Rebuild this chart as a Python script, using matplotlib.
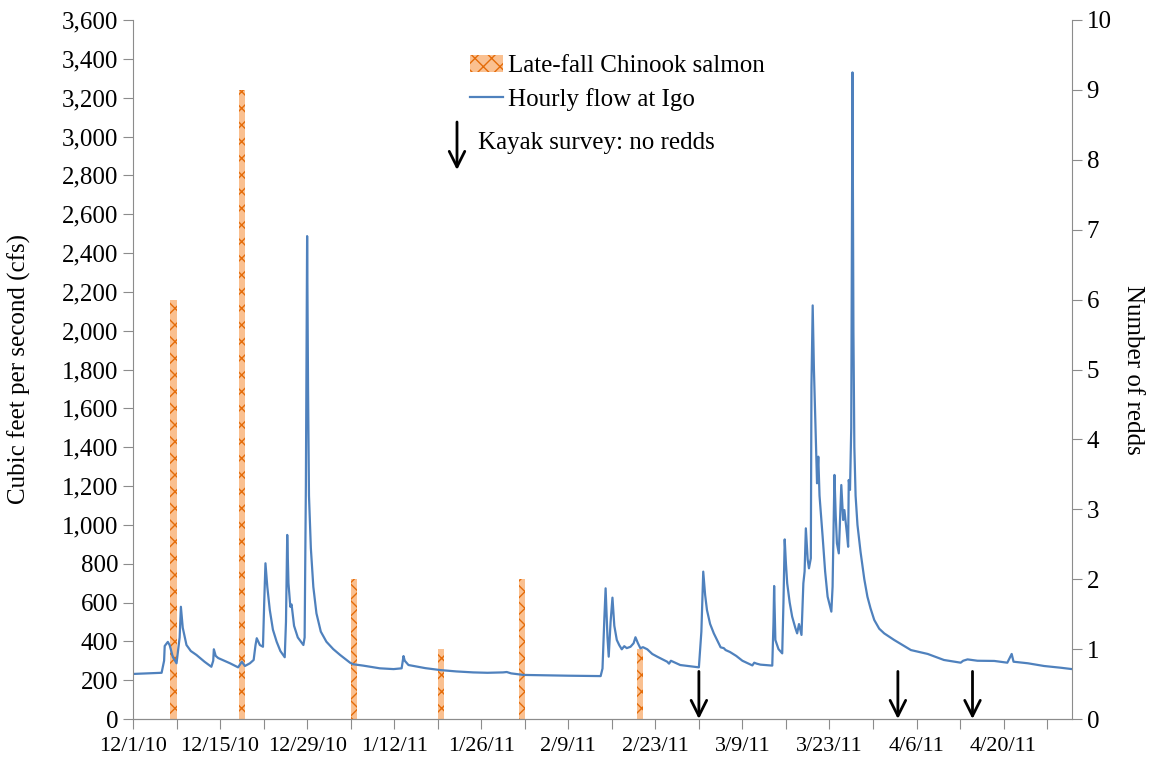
import numpy as np
import pandas as pd
import matplotlib
matplotlib.use("Agg")
import matplotlib.pyplot as plt
import matplotlib.dates as mdates
from matplotlib.ticker import FuncFormatter, MultipleLocator

plt.rcParams["font.family"] = ["Liberation Serif", "DejaVu Serif"]
plt.rcParams["hatch.linewidth"] = 1.0

# Data
start = pd.Timestamp("2010-12-01")

# hourly flow at Igo, days since 12/1/10 and cfs
flow_days = [0.0, 1.5, 3.0, 4.6, 5.0, 5.1, 5.6, 5.9, 6.4, 7.0, 7.5, 7.7, 8.0, 8.6, 9.3,
             10.2, 11.5, 12.6, 12.9, 13.0, 13.3, 13.7, 15.6, 16.9, 17.5, 18.0, 18.8,
             19.4, 19.7, 19.9, 20.4, 20.9, 21.1, 21.3, 21.6, 22.0, 22.5, 23.1, 23.7,
             24.4, 24.6, 24.8, 25.0, 25.3, 25.5, 25.9, 26.5, 27.4, 27.6, 27.8, 28.0,
             28.15, 28.3, 28.6, 29.0, 29.5, 30.2, 31.1, 32.2, 33.3, 34.9, 35.4, 37.0,
             39.7, 41.9, 43.2, 43.5, 43.7, 44.3, 47.0, 49.4, 52.0, 54.7, 57.0, 59.5,
             60.1, 60.8, 62.8, 66.0, 70.0, 75.2, 75.5, 75.8, 76.0, 76.3, 76.5, 76.8,
             77.1, 77.4, 77.8, 78.2, 78.6, 79.0, 79.4, 80.0, 80.5, 80.8, 81.2, 81.6,
             82.0, 82.7, 83.5, 84.3, 85.9, 86.2, 86.5, 88.0, 90.0, 91.0, 91.4, 91.7,
             92.0, 92.3, 92.8, 93.4, 94.5, 95.0, 95.3, 96.0, 97.0, 98.0, 99.6, 99.9,
             100.3, 100.9, 102.8, 103.0, 103.1, 103.3, 103.8, 104.4, 104.6, 104.8,
             105.0, 105.2, 105.6, 106.0, 106.5, 106.8, 107.1, 107.5, 107.8, 108.0,
             108.2, 108.5, 108.7, 109.0, 109.1, 109.3, 109.5, 109.8, 110.0, 110.2,
             110.4, 110.9, 111.3, 111.7, 112.3, 112.5, 112.8, 113.0, 113.2, 113.5,
             113.9, 114.2, 114.4, 114.8, 115.0, 115.1, 115.3, 115.5, 115.7, 115.85,
             116.0, 116.2, 116.5, 117.0, 117.6, 118.1, 118.6, 119.2, 120.0, 120.8,
             122.4, 125.1, 127.8, 130.4, 133.1, 133.5, 134.2, 135.8, 138.5, 140.6,
             141.3, 141.6, 143.9, 146.5, 149.2, 151.0]
flow_cfs = [232, 234, 236, 238, 300, 376, 397, 380, 320, 287, 420, 578, 470, 381, 350,
            330, 295, 269, 300, 359, 325, 314, 287, 266, 295, 273, 287,
            304, 380, 416, 381, 372, 600, 802, 680, 561, 460, 398, 350,
            318, 500, 948, 700, 578, 590, 480, 420, 381, 420, 1200, 2487,
            1700, 1150, 880, 680, 544, 450, 398, 360, 330, 290, 282, 275,
            261, 257, 261, 324, 300, 278, 262, 252, 245, 240, 238, 240,
            242, 235, 227, 225, 223, 221, 260, 520, 673, 420, 321, 500,
            625, 480, 407, 380, 359, 375, 365, 372, 390, 421, 390, 364,
            370, 359, 335, 321, 295, 285, 300, 278, 270, 266, 450, 759,
            640, 561, 490, 441, 369, 365, 355, 345, 325, 300, 276, 290,
            285, 280, 275, 500, 685, 407, 360, 338, 600, 925,
            800, 699, 600, 527, 470, 441, 489, 433, 699, 760,
            982, 820, 776, 828, 1711, 2130, 1800, 1454, 1214, 1351,
            1150, 939, 760, 630, 553, 681, 1257, 1050, 905, 853,
            1205, 1025, 1076, 956, 887, 1231, 1180, 1500, 3330, 2000,
            1400, 1150, 1000, 860, 720, 630, 570, 510, 465, 441,
            407, 355, 335, 304, 290, 300, 307, 300, 299, 290,
            335, 295, 287, 273, 264, 257]

# late-fall Chinook salmon redds
redd_dates = ["2010-12-07", "2010-12-18", "2011-01-05", "2011-01-19", "2011-02-01", "2011-02-20"]
redd_counts = [6, 9, 2, 1, 2, 1]

# kayak surveys with no redds
kayak_dates = ["2011-03-02", "2011-04-03", "2011-04-15"]

flow_t = start + pd.to_timedelta(flow_days, unit="D")
redd_t = pd.to_datetime(redd_dates)
kayak_t = pd.to_datetime(kayak_dates)

W, H = 1159, 761
fig = plt.figure(figsize=(W / 100, H / 100), dpi=100)
ax = fig.add_axes([133 / W, 1 - 719 / H, (1072 - 133) / W, (719 - 20) / H])
ax2 = ax.twinx()
ax.set_zorder(ax2.get_zorder() + 1)
ax.patch.set_visible(False)

bars = ax2.bar(redd_t, redd_counts, width=1.0, align="edge", color="#FAC090",
               edgecolor="#E46C0A", linewidth=0, hatch="xx",
               label="Late-fall Chinook salmon")
line, = ax.plot(flow_t, flow_cfs, color="#4F81BD", lw=1.6, label="Hourly flow at Igo")

for t in kayak_t:
    ax.annotate("", xy=(t, 0), xytext=(t, 245),
                arrowprops=dict(arrowstyle="->", color="black", lw=2, mutation_scale=28,
                                shrinkA=0, shrinkB=0))

grey = "#8c8c8c"
ax.set_xlim(start, pd.Timestamp("2011-05-01"))
ax.set_ylim(0, 3600)
ax2.set_ylim(0, 10)
ax.yaxis.set_major_locator(MultipleLocator(200))
ax.yaxis.set_major_formatter(FuncFormatter(lambda v, p: f"{v:,.0f}"))
ax2.yaxis.set_major_locator(MultipleLocator(1))

ticks = pd.date_range(start, "2011-05-01", freq="7D")
ax.set_xticks(ticks)
ax.set_xticklabels([f"{d.month}/{d.day}/{d.year % 100}" if i % 2 == 0 else ""
                    for i, d in enumerate(ticks)])

for a in (ax, ax2):
    a.spines["top"].set_visible(False)
    for s in a.spines.values():
        s.set_color(grey)
    a.tick_params(colors=grey, labelcolor="black", labelsize=18, length=7, direction="out")
ax.spines["right"].set_visible(False)
ax2.spines["left"].set_visible(False)
ax.tick_params(axis="x", pad=6, labelsize=16)

ax.set_ylabel("Cubic feet per second (cfs)", fontsize=18, labelpad=22)
ax2.set_ylabel("Number of redds", fontsize=18, rotation=270, labelpad=23)

ax.legend(handles=[bars, line], loc="upper left", bbox_to_anchor=(457 / W, 1 - 42 / H),
          bbox_transform=fig.transFigure, frameon=False, fontsize=18,
          handlelength=1.35, handletextpad=0.2, labelspacing=0.45, borderpad=0)
fig.text(478 / W, 1 - 143 / H, "Kayak survey: no redds", fontsize=18, va="center", ha="left")
ax.annotate("", xy=(457 / W, 1 - 170 / H), xytext=(457 / W, 1 - 122 / H),
            xycoords="figure fraction", textcoords="figure fraction",
            arrowprops=dict(arrowstyle="->", color="black", lw=2, mutation_scale=28,
                            shrinkA=0, shrinkB=0))

fig.savefig("out.png", dpi=100)
